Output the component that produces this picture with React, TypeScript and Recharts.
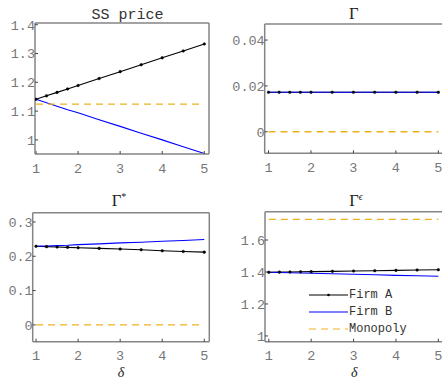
import React from 'react'
import { Legend, Line, LineChart, XAxis, YAxis } from 'recharts'

// delta grid shared by every panel
const delta = [1, 1.25, 1.5, 1.75, 2, 2.5, 3, 3.5, 4, 4.5, 5]

const priceA = [1.141, 1.153, 1.165, 1.177, 1.189, 1.213, 1.237, 1.261, 1.285, 1.309, 1.333]
const priceB = [1.141, 1.129, 1.117, 1.105, 1.094, 1.07, 1.047, 1.023, 1.0, 0.976, 0.953]
const priceMono = [1.124, 1.124, 1.124, 1.124, 1.124, 1.124, 1.124, 1.124, 1.124, 1.124, 1.124]

const gammaA = [0.0172, 0.0172, 0.0172, 0.0172, 0.0172, 0.0172, 0.0172, 0.0172, 0.0172, 0.0172, 0.0172]
const gammaB = [0.0172, 0.0172, 0.0172, 0.0172, 0.0172, 0.0172, 0.0172, 0.0172, 0.0172, 0.0172, 0.0172]
const gammaMono = [0, 0, 0, 0, 0, 0, 0, 0, 0, 0, 0]

const gStarA = [0.229, 0.228, 0.227, 0.226, 0.225, 0.223, 0.221, 0.219, 0.216, 0.214, 0.212]
const gStarB = [0.229, 0.23, 0.231, 0.232, 0.234, 0.236, 0.239, 0.241, 0.244, 0.246, 0.249]
const gStarMono = [0, 0, 0, 0, 0, 0, 0, 0, 0, 0, 0]

const gEpsA = [1.398, 1.399, 1.4, 1.401, 1.402, 1.404, 1.406, 1.408, 1.41, 1.412, 1.414]
const gEpsB = [1.398, 1.397, 1.395, 1.394, 1.392, 1.389, 1.386, 1.383, 1.379, 1.376, 1.373]
const gEpsMono = [1.729, 1.729, 1.729, 1.729, 1.729, 1.729, 1.729, 1.729, 1.729, 1.729, 1.729]

const xTicks = [1, 2, 3, 4, 5]
const priceTicks = [1, 1.1, 1.2, 1.3, 1.4]
const gammaTicks = [0, 0.02, 0.04]
const gStarTicks = [0, 0.1, 0.2, 0.3]
const gEpsTicks = [1, 1.2, 1.4, 1.6]

const seriesNames = ['Firm A', 'Firm B', 'Monopoly']

const rows = (a: number[], b: number[], m: number[]) =>
  delta.map((d, i) => ({ x: d, a: a[i], b: b[i], m: m[i] }))

const AXIS = '#858585'
const tickFont = { fontFamily: 'Liberation Mono', fontSize: 13.5, fill: '#777' }
const MONO_DASH = '7 5'

const renderLegend = (props: any) => {
  const payload = props.payload || []
  return (
    <div style={{ fontFamily: 'Liberation Mono', fontSize: 12, color: '#333' }}>
      {payload.map((entry: any, i: number) => (
        <div key={i} style={{ display: 'flex', alignItems: 'center', height: 17 }}>
          <svg width={40} height={10} style={{ display: 'block' }}>
            <line x1={0} y1={5} x2={39} y2={5} stroke={entry.color} strokeWidth={1.2}
              strokeDasharray={i === 2 ? MONO_DASH : undefined} />
            {i === 0 && <circle cx={19.5} cy={5} r={1.3} fill="#000" />}
          </svg>
          <span>{entry.value}</span>
        </div>
      ))}
    </div>
  )
}

type Box = { top: number; right: number; bottom: number; left: number }

type PanelProps = {
  left: number
  top: number
  width: number
  plot: Box // plot area edges, inside the panel
  data: any[]
  xDomain: [number, number]
  yDomain: [number, number]
  yTicks: number[]
  legend?: boolean
}

// axes are 1px thick (recharts skips 0-sized axes), so margins give up 1px per side
const Panel = ({ left, top, width, plot, data, xDomain, yDomain, yTicks, legend }: PanelProps) => (
  <div style={{ position: 'absolute', left, top }}>
    <LineChart width={width} height={190} data={data}
      margin={{ top: plot.top - 1, right: width - plot.right - 1, bottom: 190 - plot.bottom - 1, left: plot.left - 1 }}>
      <XAxis type="number" dataKey="x" domain={xDomain} ticks={xTicks} allowDataOverflow
        height={1} tickSize={-3} tickMargin={12} tick={tickFont}
        axisLine={{ stroke: AXIS, strokeWidth: 1.5 }} tickLine={{ stroke: '#444' }} />
      <XAxis xAxisId="top" orientation="top" type="number" domain={xDomain} ticks={xTicks} allowDataOverflow
        height={1} tickSize={-3} tick={false}
        axisLine={{ stroke: AXIS, strokeWidth: 1.5 }} tickLine={{ stroke: '#444' }} />
      <YAxis type="number" domain={yDomain} ticks={yTicks} allowDataOverflow
        width={1} tickSize={-3} tickMargin={3} tick={tickFont}
        axisLine={{ stroke: AXIS, strokeWidth: 1.5 }} tickLine={{ stroke: '#444' }} />
      <YAxis yAxisId="right" orientation="right" type="number" domain={yDomain} ticks={yTicks} allowDataOverflow
        width={1} tickSize={-3} tick={false}
        axisLine={{ stroke: AXIS, strokeWidth: 1.5 }} tickLine={{ stroke: '#444' }} />
      <Line dataKey="a" name={seriesNames[0]} stroke="#000" strokeWidth={1.1}
        dot={{ r: 1.3, fill: '#000', stroke: '#000', strokeWidth: 0.5 }} isAnimationActive={false} />
      <Line dataKey="b" name={seriesNames[1]} stroke="#0000ff" strokeWidth={1.1} dot={false} isAnimationActive={false} />
      <Line dataKey="m" name={seriesNames[2]} stroke="#EDB120" strokeWidth={1.3} strokeDasharray={MONO_DASH}
        dot={false} isAnimationActive={false} />
      {legend && (
        <Legend layout="vertical" align="center" verticalAlign="middle" content={renderLegend}
          wrapperStyle={{ left: 88, top: 96, width: 'auto', height: 'auto' }} />
      )}
    </LineChart>
  </div>
)

const App = () => {
  return (
    <div style={{ position: 'absolute', left: 0, top: 0, width: 442, height: 380, overflow: 'hidden', background: '#fff' }}>
      <Panel left={0} top={0} width={221} plot={{ top: 23, right: 209, bottom: 154, left: 35 }}
        data={rows(priceA, priceB, priceMono)} xDomain={[0.976, 5.112]} yDomain={[0.951, 1.406]} yTicks={priceTicks} />
      <Panel left={221} top={0} width={229} plot={{ top: 24, right: 222, bottom: 153.3, left: 43.7 }}
        data={rows(gammaA, gammaB, gammaMono)} xDomain={[0.91, 5.11]} yDomain={[-0.0094, 0.047]} yTicks={gammaTicks} />
      <Panel left={0} top={190} width={221} plot={{ top: 22.7, right: 209.3, bottom: 151.7, left: 32.7 }}
        data={rows(gStarA, gStarB, gStarMono)} xDomain={[0.92, 5.12]} yDomain={[-0.049, 0.327]} yTicks={gStarTicks} />
      <Panel left={221} top={190} width={229} plot={{ top: 21.7, right: 222, bottom: 151.7, left: 44 }}
        data={rows(gEpsA, gEpsB, gEpsMono)} xDomain={[0.91, 5.11]} yDomain={[0.964, 1.777]} yTicks={gEpsTicks} legend />
      <svg width={442} height={380} style={{ position: 'absolute', left: 0, top: 0, pointerEvents: 'none' }}>
        <text x={127.5} y={18.5} textAnchor="middle" fontFamily="Liberation Mono" fontSize={15} fill="#333">SS price</text>
        <text x={353.8} y={18.5} textAnchor="middle" fontFamily="Liberation Serif" fontSize={16.5} fill="#222">Γ</text>
        <text x={119} y={206} textAnchor="middle" fontFamily="Liberation Serif" fontSize={16.5} fill="#222">
          Γ<tspan dy={-6} fontSize={10}>*</tspan>
        </text>
        <text x={356} y={206} textAnchor="middle" fontFamily="Liberation Serif" fontSize={16.5} fill="#222">
          Γ<tspan dy={-6} fontSize={10} fontStyle="italic">ϵ</tspan>
        </text>
        <text x={121} y={377} textAnchor="middle" fontFamily="Liberation Serif" fontStyle="italic" fontSize={14} fill="#222">δ</text>
        <text x={354.3} y={377} textAnchor="middle" fontFamily="Liberation Serif" fontStyle="italic" fontSize={14} fill="#222">δ</text>
      </svg>
    </div>
  )
}

export default App
